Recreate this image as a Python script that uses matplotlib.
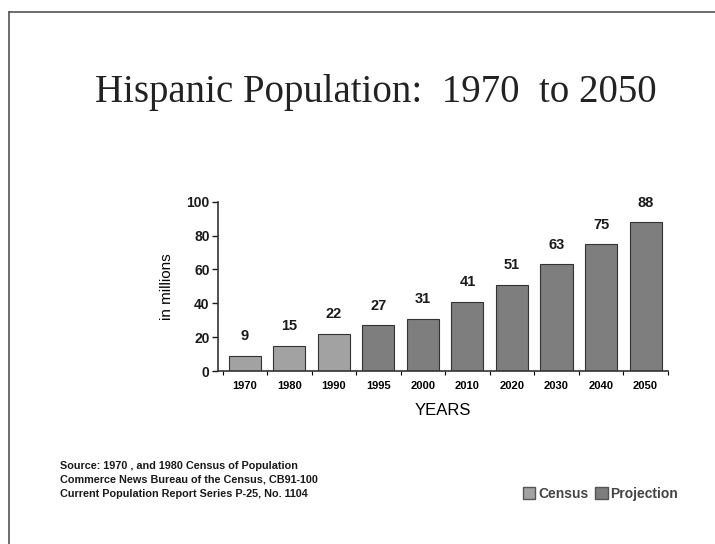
import numpy as np
import matplotlib
matplotlib.use('Agg')
import matplotlib.pyplot as plt
from matplotlib.patches import Patch
from matplotlib.lines import Line2D

years = ['1970', '1980', '1990', '1995', '2000', '2010', '2020', '2030', '2040', '2050']
population = [9, 15, 22, 27, 31, 41, 51, 63, 75, 88]
kind = ['Census', 'Census', 'Census', 'Projection', 'Projection',
        'Projection', 'Projection', 'Projection', 'Projection', 'Projection']
yticks = [0, 20, 40, 60, 80, 100]

source_lines = ['Source: 1970 , and 1980 Census of Population',
                'Commerce News Bureau of the Census, CB91-100',
                'Current Population Report Series P-25, No. 1104']

colors = {'Census': '#a2a2a2', 'Projection': '#7e7e7e'}

plt.rcParams['font.family'] = ['Liberation Sans', 'DejaVu Sans']

fig = plt.figure(figsize=(7.15, 5.44), dpi=100)

# slide frame (top and left edges only)
fig.add_artist(Line2D([0.013, 1.0], [0.978, 0.978], color='#555555', lw=1.2))
fig.add_artist(Line2D([0.013, 0.013], [0.0, 0.978], color='#555555', lw=1.2))

fig.text(0.525, 0.812, 'Hispanic Population:  1970  to 2050',
         family='Liberation Serif', fontsize=28, ha='center', va='baseline',
         color='#222222')

ax = fig.add_axes([0.305, 0.318, 0.629, 0.311])
x = np.arange(len(years))
bars = ax.bar(x, population, width=0.72,
              color=[colors[k] for k in kind], edgecolor='#333333', linewidth=0.8)

for xi, v in zip(x, population):
    ax.annotate(str(v), (xi, v), xytext=(0, 9), textcoords='offset points',
                ha='center', va='bottom', fontsize=10.5, fontweight='bold',
                color='#1a1a1a', annotation_clip=False)

ax.set_xlim(-0.6, 9.47)
ax.set_ylim(0, 100)
ax.set_yticks(yticks)
ax.set_yticklabels([str(t) for t in yticks], fontsize=10, fontweight='bold')
ax.set_xticks(x)
ax.set_xticklabels(years, fontsize=8, fontweight='bold')
ax.tick_params(axis='x', length=0, pad=7)
ax.tick_params(axis='y', length=4, width=1, pad=2, colors='#1a1a1a')
ax.set_xticks(np.arange(-0.5, 9.6, 1.0), minor=True)
ax.tick_params(axis='x', which='minor', length=3, width=0.8, direction='out')

for s in ['top', 'right']:
    ax.spines[s].set_visible(False)
for s in ['left', 'bottom']:
    ax.spines[s].set_linewidth(1.2)
    ax.spines[s].set_color('#333333')

ax.set_ylabel('in millions', fontsize=11, labelpad=9)
ax.set_xlabel('YEARS', fontsize=12, labelpad=9)

fig.text(0.084, 0.083, '\n'.join(source_lines), fontsize=7.8, fontweight='bold',
         ha='left', va='bottom', linespacing=1.5, color='#1a1a1a')

handles = [Patch(facecolor=colors['Census'], edgecolor='#555555', label='Census'),
           Patch(facecolor=colors['Projection'], edgecolor='#555555', label='Projection')]
leg = fig.legend(handles=handles, loc='center', bbox_to_anchor=(0.84, 0.092),
                 ncol=2, frameon=False, handlelength=0.9, handleheight=0.9,
                 handletextpad=0.2, columnspacing=0.5,
                 prop={'size': 10, 'weight': 'bold'})
for t in leg.get_texts():
    t.set_color('#444444')

fig.savefig('out.png', dpi=100)
